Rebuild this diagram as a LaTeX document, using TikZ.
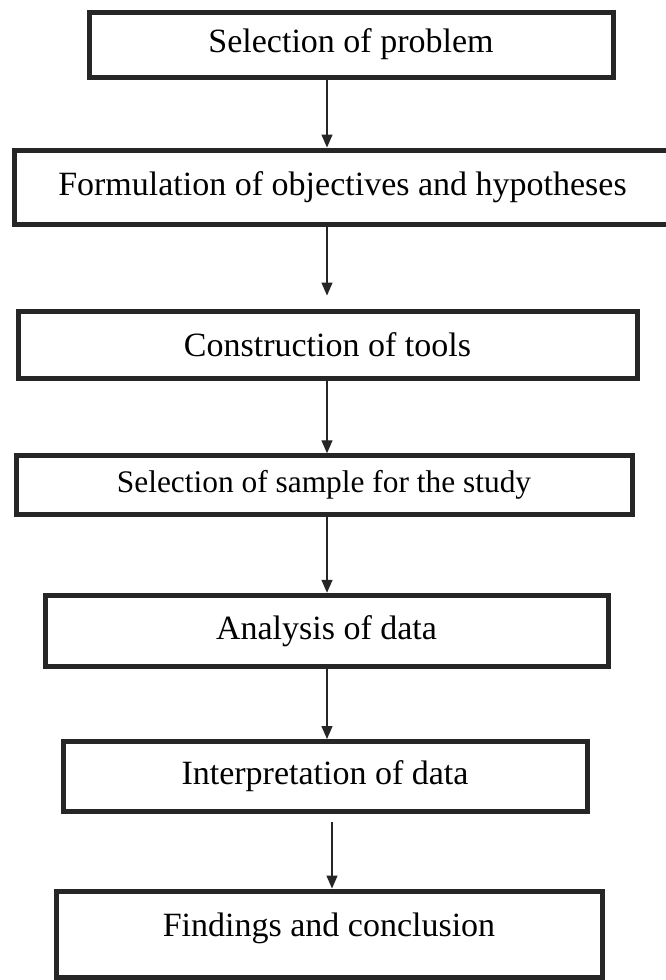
\documentclass[tikz,border=0pt]{standalone}
\usepackage{fontspec}
\setmainfont{Liberation Serif}
\usetikzlibrary{arrows.meta}

\begin{document}
\begin{tikzpicture}[x=0.5pt,y=-0.5pt,
  stage/.style={draw=black!85,line width=2.5pt,inner sep=0pt,font=\fontsize{17}{20}\selectfont},
  flow/.style={draw=black!85,line width=0.7pt,-{Triangle[width=5.5pt,length=6.5pt]}}]

\useasboundingbox (0,0) rectangle (665,980);

\node[stage,minimum width=262pt,minimum height=32.5pt] (sel) at (351,44.5) {Selection of problem};
\node[stage,minimum width=328.5pt,minimum height=37pt] (obj) at (342.5,187) {Formulation of objectives and hypotheses};
\node[stage,minimum width=309.5pt,minimum height=33.5pt] (tools) at (327.5,344.5) {Construction of tools};
\node[stage,minimum width=308pt,minimum height=29.25pt,font=\fontsize{15.7}{19}\selectfont] (sample) at (324,485) {Selection of sample for the study};
\node[stage,minimum width=281.5pt,minimum height=35.75pt] (ana) at (326.5,631) {Analysis of data};
\node[stage,minimum width=262pt,minimum height=35pt] (inter) at (325,776.5) {Interpretation of data};
\node[stage,minimum width=273pt,minimum height=43pt,text depth=9pt] (find) at (329,934) {Findings and conclusion};

% arrows
\coordinate (axis) at (327,0);
\coordinate (axisb) at (332,0);

\draw[flow] (sel.south -| axis) -- (obj.north -| axis);
\draw[flow,shorten >=6.5pt] (obj.south -| axis) -- (tools.north -| axis);
\draw[flow] (tools.south -| axis) -- (sample.north -| axis);
\draw[flow] (sample.south -| axis) -- (ana.north -| axis);
\draw[flow] (ana.south -| axis) -- (inter.north -| axis);
\draw[flow,shorten <=4pt] (inter.south -| axisb) -- (find.north -| axisb);

\end{tikzpicture}
\end{document}
